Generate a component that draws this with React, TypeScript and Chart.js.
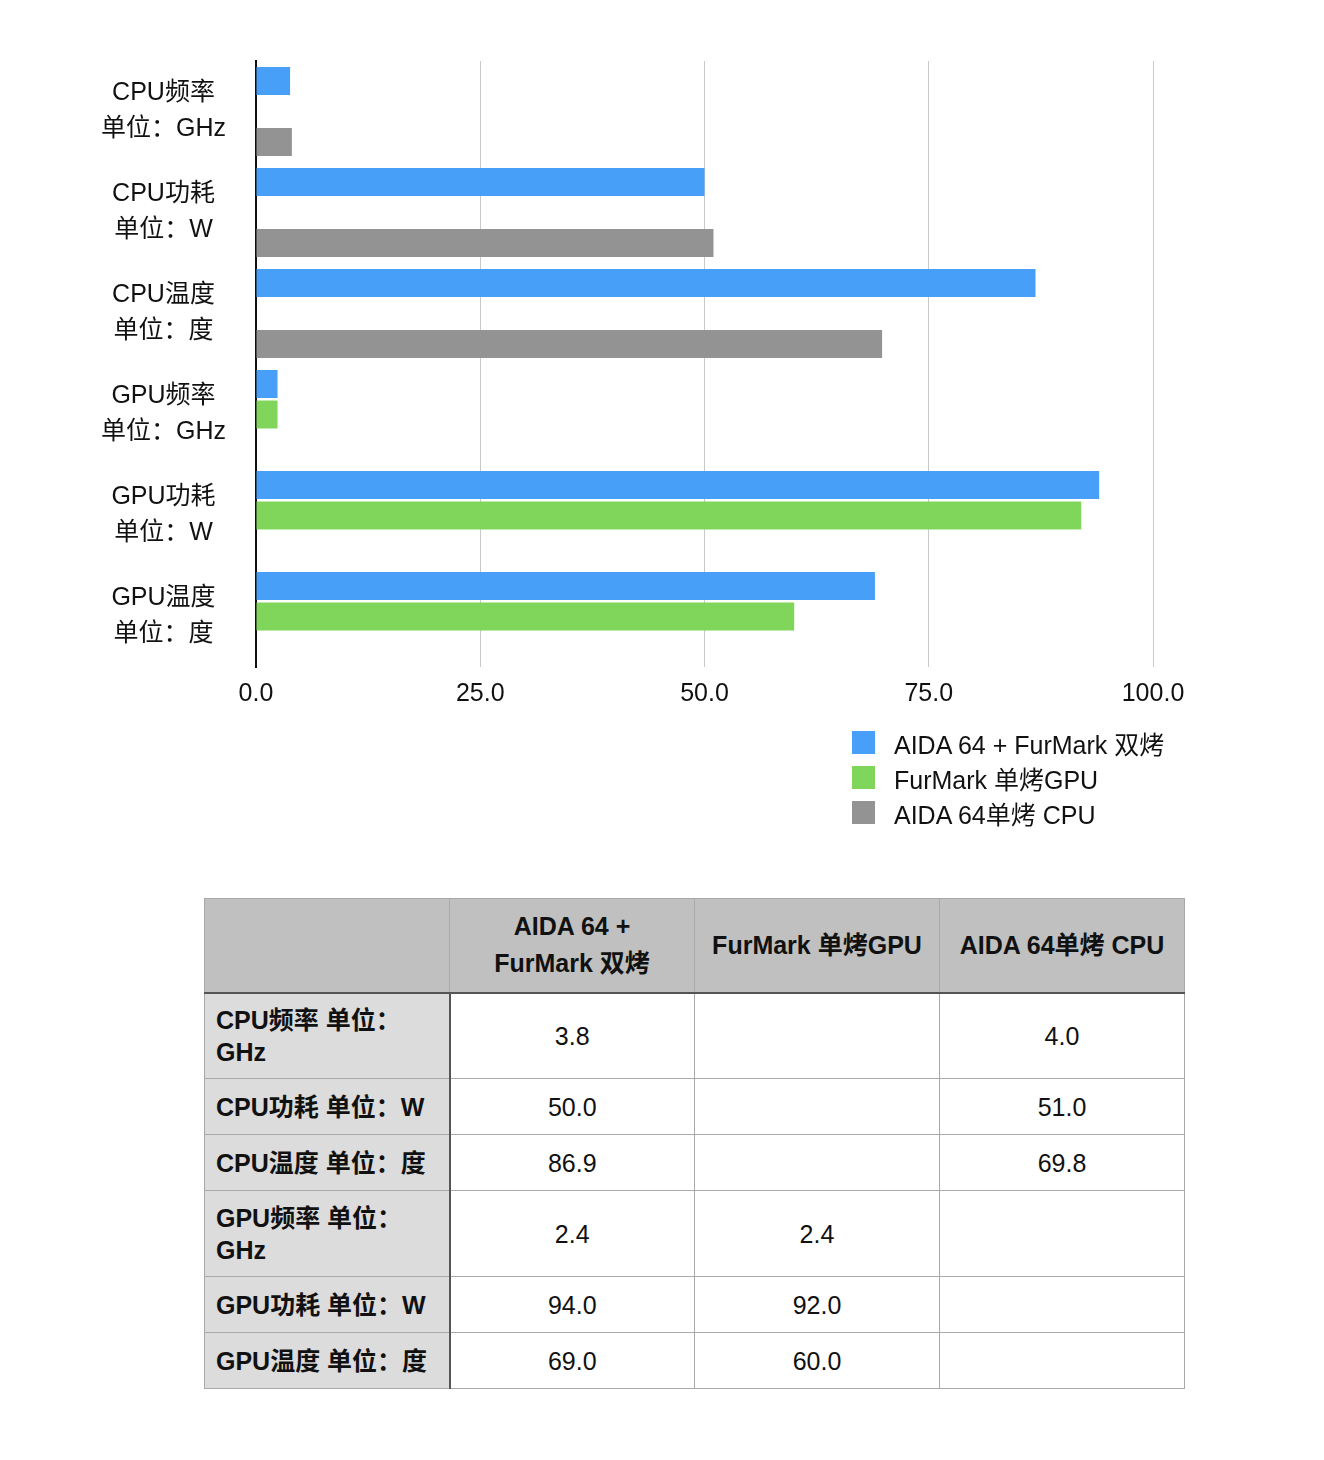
import React, { useEffect, useRef } from 'react';
import { Chart, registerables } from 'chart.js';

Chart.register(...registerables);

const FONT = '"Liberation Sans", Arial, "Noto Sans CJK SC", sans-serif';

const categories = [
  ['CPU频率', '单位：GHz'],
  ['CPU功耗', '单位：W'],
  ['CPU温度', '单位：度'],
  ['GPU频率', '单位：GHz'],
  ['GPU功耗', '单位：W'],
  ['GPU温度', '单位：度'],
];

const seriesNames = ['AIDA 64 + FurMark 双烤', 'FurMark 单烤GPU', 'AIDA 64单烤 CPU'];
const seriesColors = ['#479ff7', '#80d65a', '#939393'];

const dualValues = [3.8, 50.0, 86.9, 2.4, 94.0, 69.0];
const gpuOnlyValues = [null, null, null, 2.4, 92.0, 60.0];
const cpuOnlyValues = [4.0, 51.0, 69.8, null, null, null];

const xTicks = [0, 25, 50, 75, 100];

const allSeries = [dualValues, gpuOnlyValues, cpuOnlyValues];

const BarChart: React.FC = () => {
  const canvasRef = useRef<HTMLCanvasElement>(null);

  useEffect(() => {
    const chart = new Chart(canvasRef.current, {
      type: 'bar',
      data: {
        labels: categories,
        datasets: allSeries.map((values, i) => ({
          label: seriesNames[i],
          data: values,
          backgroundColor: seriesColors[i],
          borderWidth: 0,
          categoryPercentage: 0.906,
          barPercentage: 0.918,
        })),
      },
      options: {
        indexAxis: 'y',
        animation: false,
        responsive: true,
        maintainAspectRatio: false,
        layout: { padding: { top: 53, right: 163, left: 0, bottom: 0 } },
        plugins: {
          legend: { display: false },
          tooltip: { enabled: false },
        },
        scales: {
          x: {
            min: 0,
            max: 100,
            afterBuildTicks: (scale: any) => {
              scale.ticks = xTicks.map((v) => ({ value: v }));
            },
            afterFit: (scale: any) => {
              scale.height = 61;
            },
            ticks: {
              color: '#111',
              font: { family: FONT, size: 25 },
              padding: 12,
              callback: (v: any) => Number(v).toFixed(1),
            },
            grid: { color: '#c9c9c9', lineWidth: 1, drawTicks: false },
            border: { display: false },
          },
          y: {
            afterFit: (scale: any) => {
              scale.width = 248;
              // labels are tall; keep them from pushing the plot area in
              scale.paddingTop = 0;
              scale.paddingBottom = 0;
            },
            ticks: {
              color: '#111',
              font: { family: FONT, size: 25, lineHeight: 1.44 },
              padding: 30,
              crossAlign: 'center',
            },
            grid: { display: true, color: 'transparent', drawTicks: false },
            border: { display: true, color: '#111', width: 2 },
          },
        },
      },
    });
    return () => {
      chart.destroy();
    };
  }, []);

  return (
    <div style={{ position: 'relative', width: 1308, height: 720 }}>
      <canvas ref={canvasRef} />
    </div>
  );
};

const cellBorder = '1px solid #a9a9a9';

const App: React.FC = () => {
  const rowHeights = [86, 56, 56, 86, 56, 56];
  return (
    <div style={{ position: 'relative', width: 1308, height: 1440, fontFamily: FONT, color: '#111' }}>
      <BarChart />
      <div style={{ position: 'absolute', left: 844, top: 717 }}>
        {seriesNames.map((name, i) => (
          <div key={name} style={{ display: 'flex', alignItems: 'center', height: 35 }}>
            <div style={{ width: 23, height: 23, background: seriesColors[i], marginRight: 19 }} />
            <span style={{ fontSize: 25 }}>{name}</span>
          </div>
        ))}
      </div>
      <table
        style={{
          position: 'absolute',
          left: 196,
          top: 890,
          width: 981,
          borderCollapse: 'collapse',
          tableLayout: 'fixed',
          fontSize: 25,
          lineHeight: '32px',
        }}
      >
        <colgroup>
          <col style={{ width: 245 }} />
          <col style={{ width: 245 }} />
          <col style={{ width: 245 }} />
          <col style={{ width: 245 }} />
        </colgroup>
        <thead>
          <tr style={{ height: 94, background: '#bfc0bf' }}>
            <th style={{ border: cellBorder, borderBottom: '2px solid #555' }} />
            {seriesNames.map((name) => (
              <th
                key={name}
                style={{
                  border: cellBorder,
                  borderBottom: '2px solid #555',
                  padding: '0 14px',
                  fontWeight: 'bold',
                  lineHeight: '37px',
                }}
              >
                {name}
              </th>
            ))}
          </tr>
        </thead>
        <tbody>
          {categories.map((cat, r) => (
            <tr key={r} style={{ height: rowHeights[r] }}>
              <td
                style={{
                  background: '#dcdcdc',
                  border: cellBorder,
                  borderRight: '2px solid #555',
                  padding: '0 6px 0 11px',
                  fontWeight: 'bold',
                  textAlign: 'left',
                }}
              >
                {cat.join(' ')}
              </td>
              {allSeries.map((values, c) => (
                <td key={c} style={{ border: cellBorder, textAlign: 'center', padding: 0 }}>
                  {values[r] == null ? '' : values[r].toFixed(1)}
                </td>
              ))}
            </tr>
          ))}
        </tbody>
      </table>
    </div>
  );
};

export default App;
